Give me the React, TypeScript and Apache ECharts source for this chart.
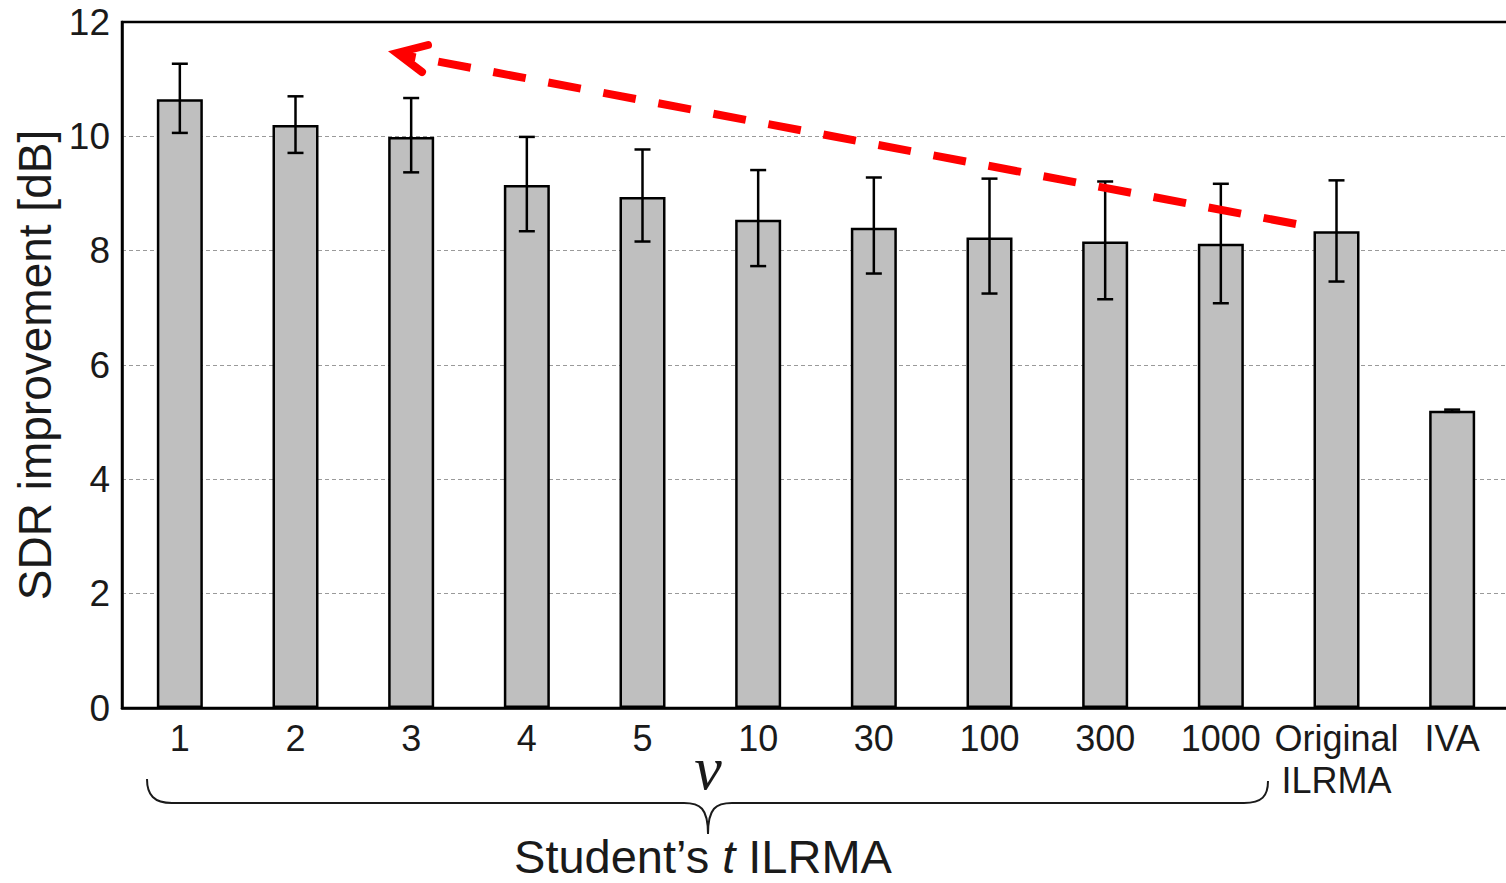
import React, { useEffect, useRef } from "react";
import * as echarts from "echarts";

const categories = ["1", "2", "3", "4", "5", "10", "30", "100", "300", "1000", "Original\nILRMA", "IVA"];
const means = [10.65, 10.2, 9.99, 9.15, 8.94, 8.54, 8.4, 8.23, 8.16, 8.12, 8.34, 5.2];
const upper = [11.27, 10.7, 10.67, 9.99, 9.77, 9.41, 9.28, 9.26, 9.21, 9.17, 9.23, 5.22];
const lower = [10.06, 9.71, 9.37, 8.34, 8.16, 7.73, 7.6, 7.25, 7.15, 7.08, 7.46, 5.18];
const yTicks = { min: 0, max: 12, interval: 2 };

const FONT = "'Liberation Sans', Arial, sans-serif";

const bracePath =
  "M147 779 C147 795 154 803 172 803 L684 803 C700 803 708 808 708 834 C708 808 716 803 732 803 L1244 803 C1262 803 1268 796 1268 781";

let registered = false;
function ensureShapes() {
  if (registered) return;
  echarts.graphic.registerShape("brace", echarts.graphic.extendPath(bracePath, {}) as any);
  registered = true;
}

export default function App() {
  const ref = useRef<HTMLDivElement>(null);
  useEffect(() => {
    if (!ref.current) return;
    ensureShapes();
    const chart = echarts.init(ref.current, undefined, { renderer: "svg" });
    const errData = categories.map((_, i) => [i, lower[i], upper[i]]);
    chart.setOption({
      animation: false,
      backgroundColor: "#ffffff",
      grid: {
        left: 122,
        top: 22,
        width: 1388,
        height: 686,
        show: true,
        borderColor: "#000",
        borderWidth: 2.5,
        containLabel: false,
        outerBoundsMode: "none",
      },
      xAxis: {
        type: "category",
        data: categories,
        axisLine: { show: true, lineStyle: { color: "#000", width: 2.5 } },
        axisTick: { show: false },
        axisLabel: {
          interval: 0,
          margin: 9,
          color: "#1a1a1a",
          fontFamily: FONT,
          fontSize: 36,
          lineHeight: 42,
        },
        splitLine: { show: false },
      },
      yAxis: {
        type: "value",
        min: yTicks.min,
        max: yTicks.max,
        interval: yTicks.interval,
        name: "SDR improvement [dB]",
        nameLocation: "middle",
        nameGap: 64,
        nameTextStyle: { color: "#1a1a1a", fontFamily: FONT, fontSize: 46 },
        axisLine: { show: true, lineStyle: { color: "#000", width: 2.5 } },
        axisTick: { show: false },
        axisLabel: { margin: 12, color: "#1a1a1a", fontFamily: FONT, fontSize: 37 },
        splitLine: {
          show: true,
          showMinLine: false,
          showMaxLine: false,
          lineStyle: { color: "#9a9a9a", type: [4, 3], width: 1.2 },
        },
      },
      series: [
        {
          type: "bar",
          data: means,
          barWidth: 46,
          itemStyle: { color: "#bfbfbf", borderColor: "#000", borderWidth: 2.5 },
          z: 2,
        },
        {
          type: "custom",
          data: errData,
          z: 3,
          renderItem: (params: any, api: any) => {
            const i = api.value(0);
            const lo = api.coord([i, api.value(1)]);
            const hi = api.coord([i, api.value(2)]);
            const hw = 8;
            const style = { stroke: "#000", lineWidth: 2.5, fill: "none" };
            return {
              type: "group",
              children: [
                { type: "line", shape: { x1: hi[0], y1: hi[1], x2: lo[0], y2: lo[1] }, style },
                { type: "line", shape: { x1: hi[0] - hw, y1: hi[1], x2: hi[0] + hw, y2: hi[1] }, style },
                { type: "line", shape: { x1: lo[0] - hw, y1: lo[1], x2: lo[0] + hw, y2: lo[1] }, style },
              ],
            };
          },
        },
      ],
      graphic: [
        {
          type: "line",
          shape: { x1: 1296, y1: 224, x2: 398, y2: 54 },
          style: { stroke: "#ff0000", lineWidth: 8, lineDash: [33, 23], lineCap: "butt" },
          z: 10,
        },
        {
          type: "polyline",
          shape: { points: [[428, 45], [397, 53], [422, 72]] },
          style: { stroke: "#ff0000", lineWidth: 8, fill: "none", lineCap: "round", lineJoin: "miter" },
          z: 10,
        },
        {
          type: "brace",
          x: 0,
          y: 0,
          style: { stroke: "#1a1a1a", lineWidth: 2, fill: "none" },
          z: 5,
        },
        {
          type: "text",
          x: 708,
          y: 768,
          style: {
            text: "ν",
            fontFamily: "'Liberation Serif', 'Times New Roman', serif",
            fontStyle: "italic",
            fontSize: 62,
            fill: "#1a1a1a",
            align: "center",
            verticalAlign: "middle",
          },
          z: 5,
        },
        {
          type: "text",
          x: 703,
          y: 856,
          style: {
            text: "{a|Student’s }{b|t}{a| ILRMA}",
            align: "center",
            verticalAlign: "middle",
            rich: {
              a: { fontFamily: FONT, fontSize: 47, lineHeight: 40, fill: "#1a1a1a", color: "#1a1a1a" },
              b: { fontFamily: FONT, fontSize: 47, lineHeight: 40, fontStyle: "italic", fill: "#1a1a1a", color: "#1a1a1a" },
            },
          },
          z: 5,
        },
      ],
    });
    return () => chart.dispose();
  }, []);
  return (
    <div
      ref={ref}
      style={{ position: "absolute", left: 0, top: 0, width: 1506, height: 883, background: "#fff" }}
    />
  );
}
